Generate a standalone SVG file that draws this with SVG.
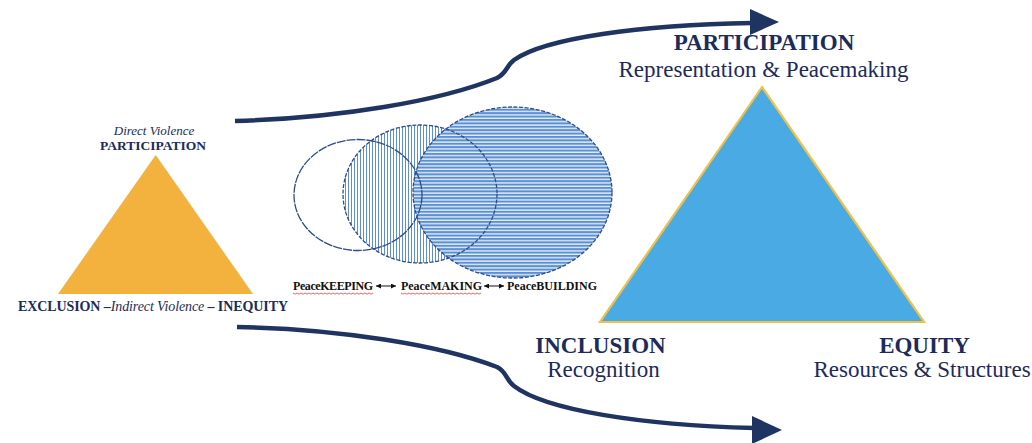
<svg xmlns="http://www.w3.org/2000/svg" width="1032" height="443" viewBox="0 0 1032 443">
  <defs>
    <style>
      text { font-family: 'Liberation Serif', 'DejaVu Serif', serif; }
      .navy { fill: #1c2b5a; }
      .b { font-weight: bold; }
      .it { font-style: italic; font-weight: normal; }
      .peace { fill: #111; font-weight: bold; font-size: 12px; }
      .conn { fill: none; stroke: #1f3460; stroke-width: 4.5; stroke-linecap: butt; }
      .head { fill: #1f3460; }
      .ring { fill: none; stroke: #2c4d8c; stroke-width: 1.3; stroke-dasharray: 4 1.6; }
      .ring.solidish { stroke-dasharray: 9 1; }
      .spell { fill: none; stroke: #e0443c; stroke-width: 0.8; }
      .dbl { stroke: #111; stroke-width: 1; fill: none; }
    </style>
    <pattern id="hstripe" width="8" height="3.4" patternUnits="userSpaceOnUse">
      <rect width="8" height="3.4" fill="#e4edf9"/>
      <rect width="8" height="2" fill="#5a8fd2"/>
    </pattern>
    <pattern id="vstripe" width="3" height="8" patternUnits="userSpaceOnUse">
      <rect width="3" height="8" fill="#ffffff"/>
      <rect width="1" height="8" fill="#5a8fd2"/>
    </pattern>
    <marker id="ah" viewBox="0 0 6 6" refX="6" refY="3" markerWidth="5" markerHeight="5" markerUnits="userSpaceOnUse" orient="auto-start-reverse">
      <path d="M0,0 L6,3 L0,6 z" fill="#111"/>
    </marker>
  </defs>

  <rect width="1032" height="443" fill="#ffffff"/>

  <g id="connectors">
    <g id="arrow-top">
      <path class="conn" d="M235,121 C340,118 440,101 497,78 C507,73 506,66 514,60 C545,38 640,25 752,23"/>
      <polygon class="head" points="750,9 779,22 750,35"/>
    </g>
    <g id="arrow-bottom">
      <path class="conn" d="M237,327 C340,329 440,345 497,367 C507,372 506,380 514,386 C545,410 640,425 754,428"/>
      <polygon class="head" points="752,416 782,430 752,444"/>
    </g>
  </g>

  <g id="violence-triangle">
    <polygon points="155.7,155 58,294 253,294" fill="#f3b13d"/>
    <text class="navy it" x="154" y="135" font-family="Liberation Serif, serif" font-size="13" text-anchor="middle">Direct Violence</text>
    <text class="navy b" x="153" y="150" font-family="Liberation Serif, serif" font-size="13.5" text-anchor="middle">PARTICIPATION</text>
    <text class="navy b" x="18" y="311" font-family="Liberation Serif, serif" font-size="14" textLength="270" lengthAdjust="spacing">EXCLUSION –<tspan class="it">Indirect Violence</tspan> –  INEQUITY</text>
  </g>

  <g id="peace-venn">
    <g id="peacekeeping">
      <ellipse cx="358" cy="195" rx="64" ry="55.5" fill="#ffffff"/>
    </g>
    <g id="peacemaking">
      <ellipse cx="420" cy="194" rx="77" ry="69" fill="url(#vstripe)"/>
    </g>
    <g id="peacebuilding">
      <ellipse cx="512.5" cy="192.5" rx="99.5" ry="85.5" fill="url(#hstripe)"/>
    </g>
    <ellipse class="ring solidish" cx="358" cy="195" rx="64" ry="55.5"/>
    <ellipse class="ring" cx="420" cy="194" rx="77" ry="69"/>
    <ellipse class="ring" cx="512.5" cy="192.5" rx="99.5" ry="85.5"/>

    <g id="peace-labels">
      <text class="peace" x="293" y="290" font-family="Liberation Serif, serif" textLength="80" lengthAdjust="spacing">PeaceKEEPING</text>
      <line class="dbl" x1="376" y1="286" x2="396" y2="286" marker-start="url(#ah)" marker-end="url(#ah)"/>
      <text class="peace" x="401" y="290" font-family="Liberation Serif, serif" textLength="81" lengthAdjust="spacing">PeaceMAKING</text>
      <line class="dbl" x1="484" y1="286" x2="504" y2="286" marker-start="url(#ah)" marker-end="url(#ah)"/>
      <text class="peace" x="507" y="290" font-family="Liberation Serif, serif" textLength="90" lengthAdjust="spacing">PeaceBUILDING</text>
      <path class="spell" d="M293,293 l2,1.2 l2,-1.2 l2,1.2 l2,-1.2 l2,1.2 l2,-1.2 l2,1.2 l2,-1.2 l2,1.2 l2,-1.2 l2,1.2 l2,-1.2 l2,1.2 l2,-1.2 l2,1.2 l2,-1.2 l2,1.2 l2,-1.2 l2,1.2 l2,-1.2 l2,1.2 l2,-1.2 l2,1.2 l2,-1.2 l2,1.2 l2,-1.2 l2,1.2 l2,-1.2 l2,1.2 l2,-1.2 l2,1.2 l2,-1.2 l2,1.2 l2,-1.2 l2,1.2 l2,-1.2 l2,1.2 l2,-1.2 l2,1.2 l2,-1.2"/>
      <path class="spell" d="M401,293 l2,1.2 l2,-1.2 l2,1.2 l2,-1.2 l2,1.2 l2,-1.2 l2,1.2 l2,-1.2 l2,1.2 l2,-1.2 l2,1.2 l2,-1.2 l2,1.2 l2,-1.2 l2,1.2 l2,-1.2 l2,1.2 l2,-1.2 l2,1.2 l2,-1.2 l2,1.2 l2,-1.2 l2,1.2 l2,-1.2 l2,1.2 l2,-1.2 l2,1.2 l2,-1.2 l2,1.2 l2,-1.2 l2,1.2 l2,-1.2 l2,1.2 l2,-1.2 l2,1.2 l2,-1.2 l2,1.2 l2,-1.2 l2,1.2 l2,-1.2"/>
    </g>
  </g>

  <g id="peace-triangle">
    <polygon points="762,87 600,322 924,322" fill="#4aabe4" stroke="#efc14a" stroke-width="2.2" stroke-linejoin="miter"/>
  </g>

  <g id="participation">
    <text class="navy b" x="764" y="50" font-family="Liberation Serif, serif" font-size="23" text-anchor="middle">PARTICIPATION</text>
    <text class="navy" x="763.5" y="77" font-family="Liberation Serif, serif" font-size="23" text-anchor="middle">Representation &amp; Peacemaking</text>
  </g>

  <g id="inclusion">
    <text class="navy b" x="600.5" y="353" font-family="Liberation Serif, serif" font-size="23" text-anchor="middle">INCLUSION</text>
    <text class="navy" x="603.5" y="377" font-family="Liberation Serif, serif" font-size="23" text-anchor="middle">Recognition</text>
  </g>

  <g id="equity">
    <text class="navy b" x="924.5" y="353" font-family="Liberation Serif, serif" font-size="23" text-anchor="middle">EQUITY</text>
    <text class="navy" x="922" y="377" font-family="Liberation Serif, serif" font-size="23" text-anchor="middle">Resources &amp; Structures</text>
  </g>
</svg>
